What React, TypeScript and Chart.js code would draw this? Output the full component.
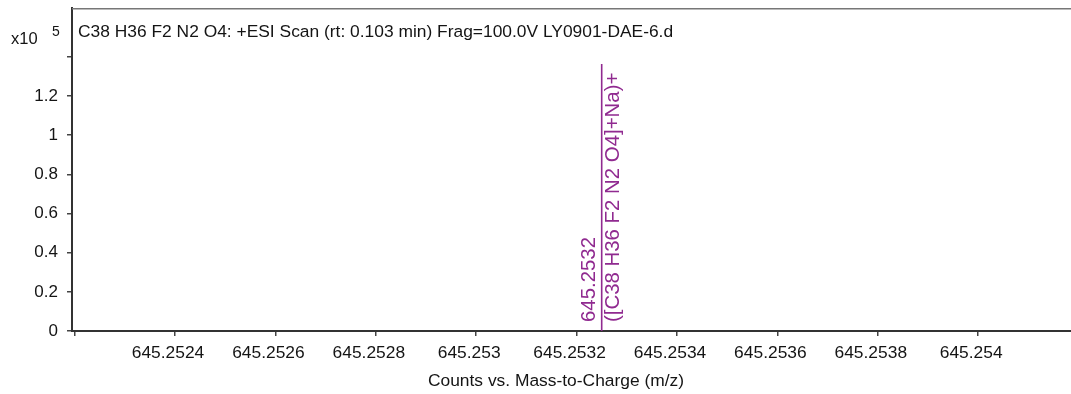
import { useEffect, useRef } from "react";
import { Chart, registerables } from "chart.js";

Chart.register(...registerables);

// ---- data (intensity in units of 10^5 counts) ----
const peakMz = [645.25325];
const peakCounts = [1.364];
const peakMassLabels = ["645.2532"];
const peakFormulaLabels = ["([C38 H36 F2 N2 O4]+Na)+"];

const xTickValues = [645.2522, 645.2524, 645.2526, 645.2528, 645.253, 645.2532, 645.2534, 645.2536, 645.2538, 645.254];
const xTickLabels = ["", "645.2524", "645.2526", "645.2528", "645.253", "645.2532", "645.2534", "645.2536", "645.2538", "645.254"];
const yTickValues = [0, 0.2, 0.4, 0.6, 0.8, 1, 1.2, 1.4];
const yTickLabels = ["0", "0.2", "0.4", "0.6", "0.8", "1", "1.2", ""];

const xRange = [645.2521948, 645.2541849];
const yRange = [0, 1.65];

const titleText = "C38 H36 F2 N2 O4: +ESI Scan (rt: 0.103 min) Frag=100.0V LY0901-DAE-6.d";
const xAxisTitle = "Counts vs. Mass-to-Charge (m/z)";
const yScaleBase = "x10";
const yScaleExp = "5";

const FONT = "'Liberation Sans', Arial, sans-serif";
const PURPLE = "#902a90";
const TEXT = "#141414";

export default function App() {
  const ref = useRef<HTMLCanvasElement | null>(null);

  useEffect(() => {
    const canvas = ref.current;
    if (!canvas) return;

    const overlay = {
      id: "overlay",
      afterDraw(chart: any) {
        const { ctx, chartArea, scales } = chart;
        const xs = scales.x;
        const ys = scales.y;
        ctx.save();
        // top frame line
        ctx.strokeStyle = "#777";
        ctx.lineWidth = 1.5;
        ctx.beginPath();
        ctx.moveTo(chartArea.left, chartArea.top + 0.75);
        ctx.lineTo(chartArea.right, chartArea.top + 0.75);
        ctx.stroke();

        // header text
        ctx.fillStyle = TEXT;
        ctx.textBaseline = "middle";
        ctx.textAlign = "left";
        ctx.font = `17.4px ${FONT}`;
        ctx.fillText(titleText, chartArea.left + 6, 32);

        ctx.font = `16.5px ${FONT}`;
        ctx.fillText(yScaleBase, 11, 39);
        ctx.font = `14px ${FONT}`;
        ctx.fillText(yScaleExp, 52, 32);

        // x axis title
        ctx.font = `17.4px ${FONT}`;
        ctx.textAlign = "center";
        ctx.fillText(xAxisTitle, 556, 381);

        // peak labels
        ctx.fillStyle = PURPLE;
        ctx.font = `20.4px ${FONT}`;
        for (let i = 0; i < peakMz.length; i++) {
          const px = xs.getPixelForValue(peakMz[i]);
          const py = ys.getPixelForValue(0) - 9;
          ctx.save();
          ctx.translate(px, py);
          ctx.rotate(-Math.PI / 2);
          ctx.textAlign = "left";
          ctx.textBaseline = "middle";
          ctx.fillText(peakMassLabels[i], 0, -12);
          ctx.fillText(peakFormulaLabels[i], 0, 12);
          ctx.restore();
        }
        ctx.restore();
      },
    };

    const chart = new Chart(canvas, {
      type: "scatter",
      data: {
        datasets: peakMz.map((mz, i) => ({
          label: peakMassLabels[i],
          data: [
            { x: mz, y: 0 },
            { x: mz, y: peakCounts[i] },
          ],
          showLine: true,
          borderColor: PURPLE,
          borderWidth: 1.6,
          pointRadius: 0,
          pointHoverRadius: 0,
        })),
      },
      options: {
        responsive: false,
        animation: false,
        events: [],
        layout: { padding: { top: 8, left: 0, right: 0, bottom: 0 } },
        plugins: { legend: { display: false }, tooltip: { enabled: false }, title: { display: false } },
        scales: {
          x: {
            type: "linear",
            position: "bottom",
            min: xRange[0],
            max: xRange[1],
            afterBuildTicks: (scale: any) => {
              scale.ticks = xTickValues.map((value) => ({ value }));
            },
            afterFit: (scale: any) => {
              scale.height = 63;
              scale.paddingLeft = 0;
              scale.paddingRight = 0;
              scale.paddingTop = 0;
              scale.paddingBottom = 0;
            },
            grid: { display: true, drawOnChartArea: false, drawTicks: true, tickLength: 5, color: "#444", lineWidth: 1.5 },
            border: { display: true, color: "#333", width: 2 },
            ticks: {
              autoSkip: false,
              maxRotation: 0,
              minRotation: 0,
              padding: 7,
              labelOffset: -7,
              color: TEXT,
              font: { family: FONT, size: 17.4 },
              callback: (_v: any, index: number) => xTickLabels[index],
            },
          },
          y: {
            type: "linear",
            min: yRange[0],
            max: yRange[1],
            afterBuildTicks: (scale: any) => {
              scale.ticks = yTickValues.map((value) => ({ value }));
            },
            afterFit: (scale: any) => {
              scale.width = 72;
              scale.paddingLeft = 0;
              scale.paddingRight = 0;
              scale.paddingTop = 0;
              scale.paddingBottom = 0;
            },
            grid: { display: true, drawOnChartArea: false, drawTicks: true, tickLength: 5, color: "#444", lineWidth: 1.5 },
            border: { display: true, color: "#333", width: 2 },
            ticks: {
              autoSkip: false,
              padding: 9,
              color: TEXT,
              font: { family: FONT, size: 17 },
              callback: (_v: any, index: number) => yTickLabels[index],
            },
          },
        },
      },
      plugins: [overlay],
    } as any);

    return () => chart.destroy();
  }, []);

  return (
    <div style={{ position: "absolute", left: 0, top: 0, width: 1071, height: 394, background: "#fff" }}>
      <canvas ref={ref} width={1071} height={394} style={{ display: "block" }} />
    </div>
  );
}
